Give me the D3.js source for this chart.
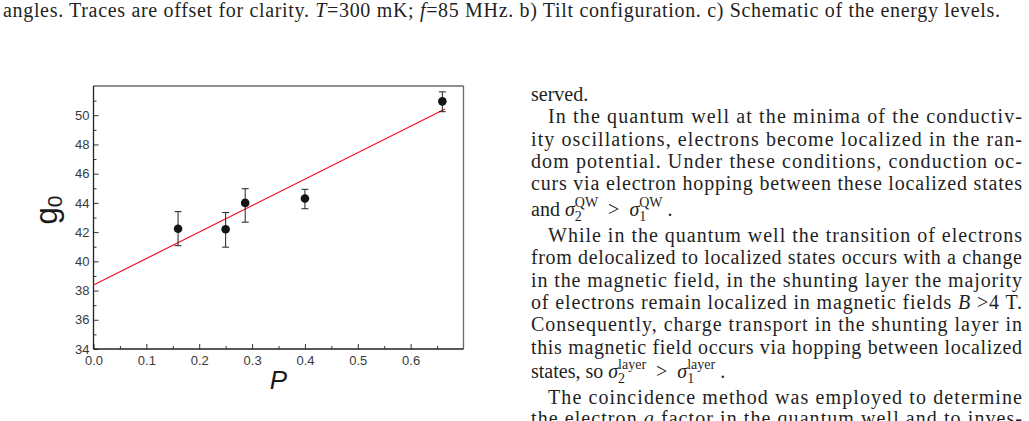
<!DOCTYPE html>
<html>
<head>
<meta charset="utf-8">
<script src="https://cdn.jsdelivr.net/npm/d3@7/dist/d3.min.js"></script>
<style>
  html, body { margin: 0; padding: 0; background: #fff; }
  svg text { white-space: pre; }
  .serif { font-family: "Liberation Serif", "Times New Roman", serif; fill: #1f1f1f; }
</style>
</head>
<body>
<svg id="page" width="1029" height="421"></svg>
<script>
// g0 vs P
const pValues = [0.16, 0.25, 0.287, 0.40, 0.66];
const g0Values = [42.23, 42.2, 44.0, 44.3, 50.95];
const errLow = [1.16, 1.23, 1.32, 0.70, 0.71];
const errHigh = [1.17, 1.14, 0.97, 0.63, 0.65];

// linear fit, end points
const fitP = [0, 0.665];
const fitG0 = [38.38, 50.43];

const xTicks = [0, 0.1, 0.2, 0.3, 0.4, 0.5, 0.6];
const xMinorTicks = [0.05, 0.15, 0.25, 0.35, 0.45, 0.55, 0.65];
const yTicks = [34, 36, 38, 40, 42, 44, 46, 48, 50];
const yMinorTicks = [35, 37, 39, 41, 43, 45, 47, 49, 51];

// surrounding page text
const captionParts = [
    { t: 'angles. Traces are offset for clarity. ' }, { t: 'T', it: true },
    { t: '=300 mK; ' }, { t: 'f', it: true },
    { t: '=85 MHz. b) Tilt configuration. c) Schematic of the energy levels.' }
];

const bodyLines = [
    { parts: [{ t: 'served.' }] },
    { indent: true, justify: true, parts: [{ t: 'In the quantum well at the minima of the conductiv-' }] },
    { justify: true, parts: [{ t: 'ity oscillations, electrons become localized in the ran-' }] },
    { justify: true, parts: [{ t: 'dom potential. Under these conditions, conduction oc-' }] },
    { justify: true, parts: [{ t: 'curs via electron hopping between these localized states' }] },
    { math: true, parts: [{ t: 'and ' }, { t: 'σ', it: true }, { t: '2', sub: true }, { t: 'QW', sup: true, stack: true },
        { t: '  >  ' }, { t: 'σ', it: true }, { t: '1', sub: true }, { t: 'QW', sup: true, stack: true }, { t: ' .' }] },
    { indent: true, justify: true, parts: [{ t: 'While in the quantum well the transition of electrons' }] },
    { justify: true, parts: [{ t: 'from delocalized to localized states occurs with a change' }] },
    { justify: true, parts: [{ t: 'in the magnetic field, in the shunting layer the majority' }] },
    { justify: true, parts: [{ t: 'of electrons remain localized in magnetic fields ' }, { t: 'B', it: true }, { t: ' >4 T.' }] },
    { justify: true, parts: [{ t: 'Consequently, charge transport in the shunting layer in' }] },
    { justify: true, parts: [{ t: 'this magnetic field occurs via hopping between localized' }] },
    { math: true, parts: [{ t: 'states, so ' }, { t: 'σ', it: true }, { t: '2', sub: true }, { t: 'layer', sup: true, stack: true },
        { t: '  >  ' }, { t: 'σ', it: true }, { t: '1', sub: true }, { t: 'layer', sup: true, stack: true }, { t: ' .' }] },
    { indent: true, justify: true, parts: [{ t: 'The coincidence method was employed to determine' }] },
    { justify: true, parts: [{ t: 'the electron ' }, { t: 'g', it: true }, { t: ' factor in the quantum well and to inves-' }] }
];
const bodyBaselines = [101, 123, 145.5, 168, 190, 216, 242, 264, 286.5, 309, 331, 353.5, 378, 403.5, 425];

const svg = d3.select('#page');

// ---- text column and caption ----
const colLeft = 531, colRight = 1022, indent = 17;

function appendParts(textSel, parts) {
    parts.forEach(function (p) {
        textSel.append('tspan')
            .style('font-style', p.it ? 'italic' : 'normal')
            .text(p.t);
    });
}

const caption = svg.append('text')
    .attr('class', 'serif')
    .attr('x', 3).attr('y', 17)
    .attr('font-size', 20)
    .attr('textLength', 997)
    .attr('lengthAdjust', 'spacing');
appendParts(caption, captionParts);

// lines with sub/superscripts are laid out piece by piece
function mathLine(x, y, parts) {
    let cx = x, lastStart = x;
    parts.forEach(function (p) {
        const script = p.sub || p.sup;
        const startX = p.stack ? lastStart : cx;
        const t = svg.append('text')
            .attr('class', 'serif')
            .attr('x', startX)
            .attr('y', y + (p.sub ? 5 : p.sup ? -9 : 0))
            .attr('font-size', script ? 14 : 20)
            .style('font-style', p.it ? 'italic' : 'normal')
            .text(p.t);
        const w = t.node().getComputedTextLength();
        if (p.stack) {
            cx = Math.max(cx, startX + w);
        } else {
            lastStart = startX;
            cx = startX + w;
        }
    });
}

bodyLines.forEach(function (line, i) {
    const x0 = colLeft + (line.indent ? indent : 0);
    const y = bodyBaselines[i];
    if (line.math) {
        mathLine(x0, y, line.parts);
        return;
    }
    const t = svg.append('text')
        .attr('class', 'serif')
        .attr('x', x0).attr('y', y)
        .attr('font-size', 20);
    if (line.justify) {
        t.attr('textLength', colRight - x0).attr('lengthAdjust', 'spacing');
    }
    appendParts(t, line.parts);
});

// ---- chart ----
const plot = { left: 93.5, right: 463.5, top: 86, bottom: 349 };

const x = d3.scaleLinear().domain([0, 0.7]).range([plot.left, plot.right]);
const y = d3.scaleLinear().domain([34, 52]).range([plot.bottom, plot.top]);

const chart = svg.append('g');

// frame: top and right lighter than the axes
chart.append('line')
    .attr('x1', plot.left).attr('x2', plot.right)
    .attr('y1', plot.top).attr('y2', plot.top)
    .attr('stroke', '#6a6a6a').attr('stroke-width', 1.3);
chart.append('line')
    .attr('x1', plot.right).attr('x2', plot.right)
    .attr('y1', plot.top).attr('y2', plot.bottom)
    .attr('stroke', '#6a6a6a').attr('stroke-width', 1.3);

function styleAxis(g) {
    g.select('.domain').remove();
    g.selectAll('.tick line').attr('stroke', '#333').attr('stroke-width', 1);
    g.selectAll('.tick text')
        .attr('font-family', '"Liberation Sans", Arial, sans-serif')
        .attr('font-size', 13)
        .attr('fill', '#3a3a3a');
}

chart.append('g')
    .attr('transform', 'translate(0,' + plot.bottom + ')')
    .call(d3.axisBottom(x).tickValues(xTicks).tickSize(-5).tickPadding(7).tickFormat(d3.format('.1f')))
    .call(styleAxis);
chart.append('g')
    .attr('transform', 'translate(0,' + plot.bottom + ')')
    .call(d3.axisBottom(x).tickValues(xMinorTicks).tickSize(-3).tickFormat(''))
    .call(styleAxis);
chart.append('g')
    .attr('transform', 'translate(' + plot.left + ',0)')
    .call(d3.axisLeft(y).tickValues(yTicks).tickSize(-5).tickPadding(4))
    .call(styleAxis);
chart.append('g')
    .attr('transform', 'translate(' + plot.left + ',0)')
    .call(d3.axisLeft(y).tickValues(yMinorTicks).tickSize(-3).tickFormat(''))
    .call(styleAxis);

chart.append('line')
    .attr('x1', plot.left).attr('x2', plot.left)
    .attr('y1', plot.top).attr('y2', plot.bottom)
    .attr('stroke', '#222').attr('stroke-width', 1.3);
chart.append('line')
    .attr('x1', plot.left).attr('x2', plot.right)
    .attr('y1', plot.bottom).attr('y2', plot.bottom)
    .attr('stroke', '#222').attr('stroke-width', 1.3);

// fit line
const fitData = fitP.map(function (p, i) { return { p: p, g: fitG0[i] }; });
chart.append('path')
    .datum(fitData)
    .attr('fill', 'none')
    .attr('stroke', '#f0141e')
    .attr('stroke-width', 1.2)
    .attr('d', d3.line().x(function (d) { return x(d.p); }).y(function (d) { return y(d.g); }));

// points with error bars
const points = pValues.map(function (p, i) {
    return { p: p, g: g0Values[i], lo: g0Values[i] - errLow[i], hi: g0Values[i] + errHigh[i] };
});
const capW = 3.5;

const pt = chart.selectAll('.pt')
    .data(points)
    .join('g')
    .attr('class', 'pt');

pt.append('line')
    .attr('x1', function (d) { return x(d.p); }).attr('x2', function (d) { return x(d.p); })
    .attr('y1', function (d) { return y(d.lo); }).attr('y2', function (d) { return y(d.hi); })
    .attr('stroke', '#222').attr('stroke-width', 1);
pt.append('line')
    .attr('x1', function (d) { return x(d.p) - capW; }).attr('x2', function (d) { return x(d.p) + capW; })
    .attr('y1', function (d) { return y(d.hi); }).attr('y2', function (d) { return y(d.hi); })
    .attr('stroke', '#222').attr('stroke-width', 1);
pt.append('line')
    .attr('x1', function (d) { return x(d.p) - capW; }).attr('x2', function (d) { return x(d.p) + capW; })
    .attr('y1', function (d) { return y(d.lo); }).attr('y2', function (d) { return y(d.lo); })
    .attr('stroke', '#222').attr('stroke-width', 1);
pt.append('circle')
    .attr('cx', function (d) { return x(d.p); })
    .attr('cy', function (d) { return y(d.g); })
    .attr('r', 4.3)
    .attr('fill', '#151515');

// axis titles
const yTitle = chart.append('text')
    .attr('transform', 'translate(57,210) rotate(-90)')
    .attr('text-anchor', 'middle')
    .attr('font-family', '"Liberation Sans", Arial, sans-serif')
    .attr('font-size', 31)
    .attr('fill', '#1a1a1a');
yTitle.append('tspan').text('g');
yTitle.append('tspan').attr('font-size', 21).attr('dy', 5).text('0');

chart.append('text')
    .attr('x', (plot.left + plot.right) / 2)
    .attr('y', 389)
    .attr('text-anchor', 'middle')
    .attr('font-family', '"Liberation Sans", Arial, sans-serif')
    .attr('font-size', 26)
    .attr('font-style', 'italic')
    .attr('fill', '#1a1a1a')
    .text('P');
</script>
</body>
</html>
